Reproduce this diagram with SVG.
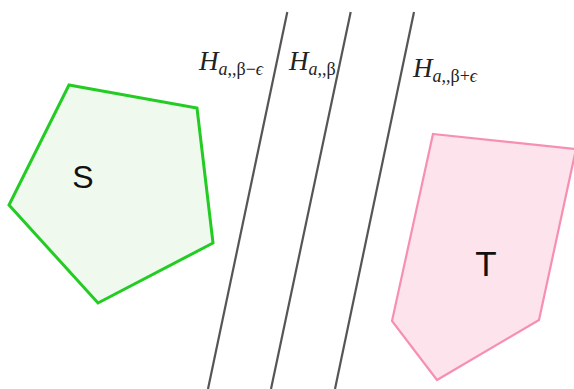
<svg xmlns="http://www.w3.org/2000/svg" width="574" height="389" viewBox="0 0 574 389">
<style>
.hp{stroke:#555;stroke-width:2.2;fill:none;stroke-linecap:butt}
.lbl{font-family:"Liberation Serif","DejaVu Serif",serif;fill:#222}
.big{font-size:27px;font-style:italic}
.sub{font-size:18px}
.it{font-style:italic}
.nl{font-family:"Liberation Sans",Arial,sans-serif;fill:#111;text-anchor:middle}
</style>
<rect width="574" height="389" fill="#fff"/>
<g id="S">
<polygon points="69,85 197,108 213,243 98,303 9,205" fill="#eff9ee" stroke="#22cc22" stroke-width="3" stroke-linejoin="miter"/>
<text class="nl" x="83" y="188" font-size="32">S</text>
</g>
<g id="T">
<polygon points="433,134 576,149 539,320 437,380 392,321" fill="#fce3ec" stroke="#f78fb1" stroke-width="2.2"/>
<text class="nl" x="486" y="276" font-size="35">T</text>
</g>
<g id="hyperplanes">
<line class="hp" x1="287.3" y1="12" x2="208" y2="389"/>
<line class="hp" x1="350.7" y1="12" x2="271" y2="389"/>
<line class="hp" x1="414" y1="12" x2="335" y2="389"/>
</g>
<g id="labels">
<text class="lbl" x="199" y="70"><tspan class="big">H</tspan><tspan class="sub" dy="5"><tspan class="it">a</tspan>,,β−<tspan class="it">ϵ</tspan></tspan></text>
<text class="lbl" x="289" y="70"><tspan class="big">H</tspan><tspan class="sub" dy="5"><tspan class="it">a</tspan>,,β</tspan></text>
<text class="lbl" x="413" y="77"><tspan class="big">H</tspan><tspan class="sub" dy="5"><tspan class="it">a</tspan>,,β+<tspan class="it">ϵ</tspan></tspan></text>
</g>
</svg>
